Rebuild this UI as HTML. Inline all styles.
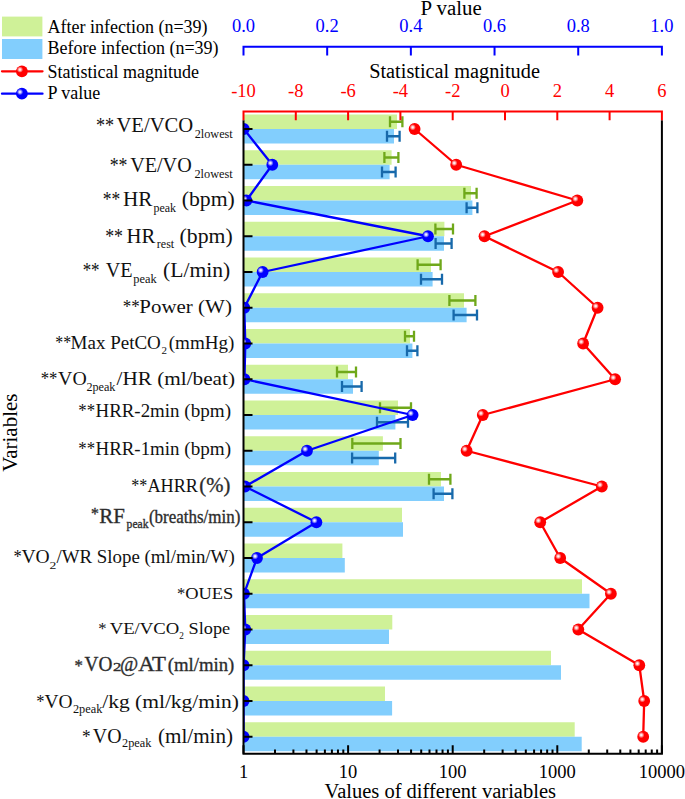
<!DOCTYPE html><html><head><meta charset="utf-8"><style>html,body{margin:0;padding:0;background:#fff;}svg{display:block;}text{font-family:"Liberation Serif",serif;}</style></head><body>
<svg width="685" height="799" viewBox="0 0 685 799">
<defs>
<radialGradient id="hl" cx="0.5" cy="0.5" r="0.5"><stop offset="0" stop-color="#fff" stop-opacity="1"/><stop offset="0.3" stop-color="#fff" stop-opacity="0.85"/><stop offset="1" stop-color="#fff" stop-opacity="0"/></radialGradient>
<clipPath id="pc"><rect x="243.5" y="105" width="418.4" height="660"/></clipPath>
</defs>
<rect width="685" height="799" fill="#fff"/>
<rect x="243.5" y="114.50" width="153.50" height="14.5" fill="#CFF198"/>
<rect x="243.5" y="129.00" width="150.50" height="14.5" fill="#82CEFD"/>
<rect x="243.5" y="150.25" width="148.10" height="14.5" fill="#CFF198"/>
<rect x="243.5" y="164.75" width="146.10" height="14.5" fill="#82CEFD"/>
<rect x="243.5" y="186.00" width="227.50" height="14.5" fill="#CFF198"/>
<rect x="243.5" y="200.50" width="228.90" height="14.5" fill="#82CEFD"/>
<rect x="243.5" y="221.75" width="200.90" height="14.5" fill="#CFF198"/>
<rect x="243.5" y="236.25" width="200.50" height="14.5" fill="#82CEFD"/>
<rect x="243.5" y="257.50" width="187.50" height="14.5" fill="#CFF198"/>
<rect x="243.5" y="272.00" width="189.10" height="14.5" fill="#82CEFD"/>
<rect x="243.5" y="293.25" width="220.50" height="14.5" fill="#CFF198"/>
<rect x="243.5" y="307.75" width="223.10" height="14.5" fill="#82CEFD"/>
<rect x="243.5" y="329.00" width="166.50" height="14.5" fill="#CFF198"/>
<rect x="243.5" y="343.50" width="168.90" height="14.5" fill="#82CEFD"/>
<rect x="243.5" y="364.75" width="104.50" height="14.5" fill="#CFF198"/>
<rect x="243.5" y="379.25" width="109.50" height="14.5" fill="#82CEFD"/>
<rect x="243.5" y="400.50" width="154.50" height="14.5" fill="#CFF198"/>
<rect x="243.5" y="415.00" width="151.90" height="14.5" fill="#82CEFD"/>
<rect x="243.5" y="436.25" width="139.40" height="14.5" fill="#CFF198"/>
<rect x="243.5" y="450.75" width="135.30" height="14.5" fill="#82CEFD"/>
<rect x="243.5" y="472.00" width="197.50" height="14.5" fill="#CFF198"/>
<rect x="243.5" y="486.50" width="200.50" height="14.5" fill="#82CEFD"/>
<rect x="243.5" y="507.75" width="158.50" height="14.5" fill="#CFF198"/>
<rect x="243.5" y="522.25" width="159.50" height="14.5" fill="#82CEFD"/>
<rect x="243.5" y="543.50" width="98.90" height="14.5" fill="#CFF198"/>
<rect x="243.5" y="558.00" width="101.30" height="14.5" fill="#82CEFD"/>
<rect x="243.5" y="579.25" width="338.50" height="14.5" fill="#CFF198"/>
<rect x="243.5" y="593.75" width="346.00" height="14.5" fill="#82CEFD"/>
<rect x="243.5" y="615.00" width="148.80" height="14.5" fill="#CFF198"/>
<rect x="243.5" y="629.50" width="145.50" height="14.5" fill="#82CEFD"/>
<rect x="243.5" y="650.75" width="307.50" height="14.5" fill="#CFF198"/>
<rect x="243.5" y="665.25" width="317.50" height="14.5" fill="#82CEFD"/>
<rect x="243.5" y="686.50" width="141.50" height="14.5" fill="#CFF198"/>
<rect x="243.5" y="701.00" width="148.60" height="14.5" fill="#82CEFD"/>
<rect x="243.5" y="722.25" width="331.20" height="14.5" fill="#CFF198"/>
<rect x="243.5" y="736.75" width="338.20" height="14.5" fill="#82CEFD"/>
<path d="M390.00 121.75H402.40M390.00 116.25V127.25M402.40 116.25V127.25" stroke="#6FA81A" stroke-width="2.3" fill="none"/>
<path d="M387.00 136.25H399.60M387.00 130.75V141.75M399.60 130.75V141.75" stroke="#1769AB" stroke-width="2.3" fill="none"/>
<path d="M384.40 157.50H398.40M384.40 152.00V163.00M398.40 152.00V163.00" stroke="#6FA81A" stroke-width="2.3" fill="none"/>
<path d="M382.00 172.00H395.60M382.00 166.50V177.50M395.60 166.50V177.50" stroke="#1769AB" stroke-width="2.3" fill="none"/>
<path d="M464.40 193.25H476.60M464.40 187.75V198.75M476.60 187.75V198.75" stroke="#6FA81A" stroke-width="2.3" fill="none"/>
<path d="M466.60 207.75H477.40M466.60 202.25V213.25M477.40 202.25V213.25" stroke="#1769AB" stroke-width="2.3" fill="none"/>
<path d="M435.40 229.00H453.00M435.40 223.50V234.50M453.00 223.50V234.50" stroke="#6FA81A" stroke-width="2.3" fill="none"/>
<path d="M435.60 243.50H451.60M435.60 238.00V249.00M451.60 238.00V249.00" stroke="#1769AB" stroke-width="2.3" fill="none"/>
<path d="M417.60 264.75H440.60M417.60 259.25V270.25M440.60 259.25V270.25" stroke="#6FA81A" stroke-width="2.3" fill="none"/>
<path d="M421.00 279.25H442.00M421.00 273.75V284.75M442.00 273.75V284.75" stroke="#1769AB" stroke-width="2.3" fill="none"/>
<path d="M449.40 300.50H475.40M449.40 295.00V306.00M475.40 295.00V306.00" stroke="#6FA81A" stroke-width="2.3" fill="none"/>
<path d="M453.60 315.00H477.00M453.60 309.50V320.50M477.00 309.50V320.50" stroke="#1769AB" stroke-width="2.3" fill="none"/>
<path d="M405.00 336.25H414.00M405.00 330.75V341.75M414.00 330.75V341.75" stroke="#6FA81A" stroke-width="2.3" fill="none"/>
<path d="M407.00 350.75H417.40M407.00 345.25V356.25M417.40 345.25V356.25" stroke="#1769AB" stroke-width="2.3" fill="none"/>
<path d="M337.00 372.00H356.00M337.00 366.50V377.50M356.00 366.50V377.50" stroke="#6FA81A" stroke-width="2.3" fill="none"/>
<path d="M342.00 386.50H361.60M342.00 381.00V392.00M361.60 381.00V392.00" stroke="#1769AB" stroke-width="2.3" fill="none"/>
<path d="M380.00 407.75H411.00M380.00 402.25V413.25M411.00 402.25V413.25" stroke="#6FA81A" stroke-width="2.3" fill="none"/>
<path d="M377.00 422.25H408.00M377.00 416.75V427.75M408.00 416.75V427.75" stroke="#1769AB" stroke-width="2.3" fill="none"/>
<path d="M352.30 443.50H400.50M352.30 438.00V449.00M400.50 438.00V449.00" stroke="#6FA81A" stroke-width="2.3" fill="none"/>
<path d="M352.10 458.00H395.20M352.10 452.50V463.50M395.20 452.50V463.50" stroke="#1769AB" stroke-width="2.3" fill="none"/>
<path d="M429.00 479.25H450.40M429.00 473.75V484.75M450.40 473.75V484.75" stroke="#6FA81A" stroke-width="2.3" fill="none"/>
<path d="M433.60 493.75H452.40M433.60 488.25V499.25M452.40 488.25V499.25" stroke="#1769AB" stroke-width="2.3" fill="none"/>
<g clip-path="url(#pc)">
<polyline points="414.60,129.00 456.20,164.75 577.30,200.50 484.50,236.25 558.10,272.00 597.60,307.75 583.10,343.50 615.10,379.25 482.80,415.00 466.60,450.75 601.80,486.50 540.20,522.25 560.20,558.00 610.90,593.75 578.30,629.50 639.30,665.25 644.20,701.00 643.20,736.75" fill="none" stroke="#FF0000" stroke-width="2.3" stroke-linejoin="round"/>
<polyline points="243.80,129.00 272.30,164.75 246.40,200.50 428.00,236.25 262.60,272.00 244.30,307.75 245.30,343.50 244.50,379.25 412.60,415.00 307.00,450.75 245.00,486.50 316.40,522.25 257.00,558.00 244.00,593.75 245.30,629.50 243.60,665.25 243.60,701.00 243.60,736.75" fill="none" stroke="#0000FF" stroke-width="2.3" stroke-linejoin="round"/>
<circle cx="414.60" cy="129.00" r="5.9" fill="#FF0000"/><circle cx="412.70" cy="127.30" r="3.2" fill="url(#hl)"/>
<circle cx="456.20" cy="164.75" r="5.9" fill="#FF0000"/><circle cx="454.30" cy="163.05" r="3.2" fill="url(#hl)"/>
<circle cx="577.30" cy="200.50" r="5.9" fill="#FF0000"/><circle cx="575.40" cy="198.80" r="3.2" fill="url(#hl)"/>
<circle cx="484.50" cy="236.25" r="5.9" fill="#FF0000"/><circle cx="482.60" cy="234.55" r="3.2" fill="url(#hl)"/>
<circle cx="558.10" cy="272.00" r="5.9" fill="#FF0000"/><circle cx="556.20" cy="270.30" r="3.2" fill="url(#hl)"/>
<circle cx="597.60" cy="307.75" r="5.9" fill="#FF0000"/><circle cx="595.70" cy="306.05" r="3.2" fill="url(#hl)"/>
<circle cx="583.10" cy="343.50" r="5.9" fill="#FF0000"/><circle cx="581.20" cy="341.80" r="3.2" fill="url(#hl)"/>
<circle cx="615.10" cy="379.25" r="5.9" fill="#FF0000"/><circle cx="613.20" cy="377.55" r="3.2" fill="url(#hl)"/>
<circle cx="482.80" cy="415.00" r="5.9" fill="#FF0000"/><circle cx="480.90" cy="413.30" r="3.2" fill="url(#hl)"/>
<circle cx="466.60" cy="450.75" r="5.9" fill="#FF0000"/><circle cx="464.70" cy="449.05" r="3.2" fill="url(#hl)"/>
<circle cx="601.80" cy="486.50" r="5.9" fill="#FF0000"/><circle cx="599.90" cy="484.80" r="3.2" fill="url(#hl)"/>
<circle cx="540.20" cy="522.25" r="5.9" fill="#FF0000"/><circle cx="538.30" cy="520.55" r="3.2" fill="url(#hl)"/>
<circle cx="560.20" cy="558.00" r="5.9" fill="#FF0000"/><circle cx="558.30" cy="556.30" r="3.2" fill="url(#hl)"/>
<circle cx="610.90" cy="593.75" r="5.9" fill="#FF0000"/><circle cx="609.00" cy="592.05" r="3.2" fill="url(#hl)"/>
<circle cx="578.30" cy="629.50" r="5.9" fill="#FF0000"/><circle cx="576.40" cy="627.80" r="3.2" fill="url(#hl)"/>
<circle cx="639.30" cy="665.25" r="5.9" fill="#FF0000"/><circle cx="637.40" cy="663.55" r="3.2" fill="url(#hl)"/>
<circle cx="644.20" cy="701.00" r="5.9" fill="#FF0000"/><circle cx="642.30" cy="699.30" r="3.2" fill="url(#hl)"/>
<circle cx="643.20" cy="736.75" r="5.9" fill="#FF0000"/><circle cx="641.30" cy="735.05" r="3.2" fill="url(#hl)"/>
<circle cx="243.80" cy="129.00" r="5.9" fill="#0000FF"/><circle cx="241.90" cy="127.30" r="3.2" fill="url(#hl)"/>
<circle cx="272.30" cy="164.75" r="5.9" fill="#0000FF"/><circle cx="270.40" cy="163.05" r="3.2" fill="url(#hl)"/>
<circle cx="246.40" cy="200.50" r="5.9" fill="#0000FF"/><circle cx="244.50" cy="198.80" r="3.2" fill="url(#hl)"/>
<circle cx="428.00" cy="236.25" r="5.9" fill="#0000FF"/><circle cx="426.10" cy="234.55" r="3.2" fill="url(#hl)"/>
<circle cx="262.60" cy="272.00" r="5.9" fill="#0000FF"/><circle cx="260.70" cy="270.30" r="3.2" fill="url(#hl)"/>
<circle cx="244.30" cy="307.75" r="5.9" fill="#0000FF"/><circle cx="242.40" cy="306.05" r="3.2" fill="url(#hl)"/>
<circle cx="245.30" cy="343.50" r="5.9" fill="#0000FF"/><circle cx="243.40" cy="341.80" r="3.2" fill="url(#hl)"/>
<circle cx="244.50" cy="379.25" r="5.9" fill="#0000FF"/><circle cx="242.60" cy="377.55" r="3.2" fill="url(#hl)"/>
<circle cx="412.60" cy="415.00" r="5.9" fill="#0000FF"/><circle cx="410.70" cy="413.30" r="3.2" fill="url(#hl)"/>
<circle cx="307.00" cy="450.75" r="5.9" fill="#0000FF"/><circle cx="305.10" cy="449.05" r="3.2" fill="url(#hl)"/>
<circle cx="245.00" cy="486.50" r="5.9" fill="#0000FF"/><circle cx="243.10" cy="484.80" r="3.2" fill="url(#hl)"/>
<circle cx="316.40" cy="522.25" r="5.9" fill="#0000FF"/><circle cx="314.50" cy="520.55" r="3.2" fill="url(#hl)"/>
<circle cx="257.00" cy="558.00" r="5.9" fill="#0000FF"/><circle cx="255.10" cy="556.30" r="3.2" fill="url(#hl)"/>
<circle cx="244.00" cy="593.75" r="5.9" fill="#0000FF"/><circle cx="242.10" cy="592.05" r="3.2" fill="url(#hl)"/>
<circle cx="245.30" cy="629.50" r="5.9" fill="#0000FF"/><circle cx="243.40" cy="627.80" r="3.2" fill="url(#hl)"/>
<circle cx="243.60" cy="665.25" r="5.9" fill="#0000FF"/><circle cx="241.70" cy="663.55" r="3.2" fill="url(#hl)"/>
<circle cx="243.60" cy="701.00" r="5.9" fill="#0000FF"/><circle cx="241.70" cy="699.30" r="3.2" fill="url(#hl)"/>
<circle cx="243.60" cy="736.75" r="5.9" fill="#0000FF"/><circle cx="241.70" cy="735.05" r="3.2" fill="url(#hl)"/>
</g>
<path d="M243.5 120.3V753.75M661.9 120.3V753.75M242.5 753.75H662.9" stroke="#000" stroke-width="2" fill="none"/>
<path d="M243.5 129.00H252.5M243.5 164.75H252.5M243.5 200.50H252.5M243.5 236.25H252.5M243.5 272.00H252.5M243.5 307.75H252.5M243.5 343.50H252.5M243.5 379.25H252.5M243.5 415.00H252.5M243.5 450.75H252.5M243.5 486.50H252.5M243.5 522.25H252.5M243.5 558.00H252.5M243.5 593.75H252.5M243.5 629.50H252.5M243.5 665.25H252.5M243.5 701.00H252.5M243.5 736.75H252.5" stroke="#000" stroke-width="2"/>
<path d="M243.50 753.75V745.25M274.99 753.75V749.45M293.41 753.75V749.45M306.48 753.75V749.45M316.61 753.75V749.45M324.89 753.75V749.45M331.90 753.75V749.45M337.96 753.75V749.45M343.31 753.75V749.45M348.10 753.75V745.25M379.59 753.75V749.45M398.01 753.75V749.45M411.08 753.75V749.45M421.21 753.75V749.45M429.49 753.75V749.45M436.50 753.75V749.45M442.56 753.75V749.45M447.91 753.75V749.45M452.70 753.75V745.25M484.19 753.75V749.45M502.61 753.75V749.45M515.68 753.75V749.45M525.81 753.75V749.45M534.09 753.75V749.45M541.10 753.75V749.45M547.16 753.75V749.45M552.51 753.75V749.45M557.30 753.75V745.25M588.79 753.75V749.45M607.21 753.75V749.45M620.28 753.75V749.45M630.41 753.75V749.45M638.69 753.75V749.45M645.70 753.75V749.45M651.76 753.75V749.45M657.11 753.75V749.45M661.90 753.75V745.25" stroke="#000" stroke-width="2"/>
<path d="M242.5 111.4H662.9M243.50 111.4V120.30000000000001M295.80 111.4V120.30000000000001M348.10 111.4V120.30000000000001M400.40 111.4V120.30000000000001M452.70 111.4V120.30000000000001M505.00 111.4V120.30000000000001M557.30 111.4V120.30000000000001M609.60 111.4V120.30000000000001M661.90 111.4V120.30000000000001" stroke="#FF0000" stroke-width="2" fill="none"/>
<path d="M242.5 46.8H662.9M243.50 46.8V55.599999999999994M327.18 46.8V55.599999999999994M410.86 46.8V55.599999999999994M494.54 46.8V55.599999999999994M578.22 46.8V55.599999999999994M661.90 46.8V55.599999999999994" stroke="#0000FF" stroke-width="2" fill="none"/>
<text x="243.50" y="31.8" font-size="18.5" fill="#0000FF" text-anchor="middle">0.0</text>
<text x="327.18" y="31.8" font-size="18.5" fill="#0000FF" text-anchor="middle">0.2</text>
<text x="410.86" y="31.8" font-size="18.5" fill="#0000FF" text-anchor="middle">0.4</text>
<text x="494.54" y="31.8" font-size="18.5" fill="#0000FF" text-anchor="middle">0.6</text>
<text x="578.22" y="31.8" font-size="18.5" fill="#0000FF" text-anchor="middle">0.8</text>
<text x="661.90" y="31.8" font-size="18.5" fill="#0000FF" text-anchor="middle">1.0</text>
<text x="243.50" y="96.6" font-size="18.5" fill="#FF0000" text-anchor="middle">-10</text>
<text x="295.80" y="96.6" font-size="18.5" fill="#FF0000" text-anchor="middle">-8</text>
<text x="348.10" y="96.6" font-size="18.5" fill="#FF0000" text-anchor="middle">-6</text>
<text x="400.40" y="96.6" font-size="18.5" fill="#FF0000" text-anchor="middle">-4</text>
<text x="452.70" y="96.6" font-size="18.5" fill="#FF0000" text-anchor="middle">-2</text>
<text x="505.00" y="96.6" font-size="18.5" fill="#FF0000" text-anchor="middle">0</text>
<text x="557.30" y="96.6" font-size="18.5" fill="#FF0000" text-anchor="middle">2</text>
<text x="609.60" y="96.6" font-size="18.5" fill="#FF0000" text-anchor="middle">4</text>
<text x="661.90" y="96.6" font-size="18.5" fill="#FF0000" text-anchor="middle">6</text>
<text x="243.50" y="778" font-size="18.5" fill="#000" text-anchor="middle">1</text>
<text x="348.10" y="778" font-size="18.5" fill="#000" text-anchor="middle">10</text>
<text x="452.70" y="778" font-size="18.5" fill="#000" text-anchor="middle">100</text>
<text x="557.30" y="778" font-size="18.5" fill="#000" text-anchor="middle">1000</text>
<text x="661.90" y="778" font-size="18.5" fill="#000" text-anchor="middle">10000</text>
<text transform="translate(17 432.6) rotate(-90)" font-size="21" text-anchor="middle">Variables</text>
<rect x="2" y="16.6" width="40.4" height="19.8" fill="#CFF198"/>
<rect x="2" y="39" width="40.4" height="20" fill="#82CEFD"/>
<path d="M2 71.3H42.5" stroke="#FF0000" stroke-width="2.3" stroke-linecap="round"/>
<circle cx="21.90" cy="71.30" r="5.9" fill="#FF0000"/><circle cx="20.00" cy="69.60" r="3.2" fill="url(#hl)"/>
<path d="M2 93.7H42.5" stroke="#0000FF" stroke-width="2.3" stroke-linecap="round"/>
<circle cx="21.90" cy="93.70" r="5.9" fill="#0000FF"/><circle cx="20.00" cy="92.00" r="3.2" fill="url(#hl)"/>
<text x="47.5" y="32.5" font-size="18">After infection (n=39)</text>
<text x="47.5" y="53.8" font-size="18">Before infection (n=39)</text>
<text x="47.5" y="77.5" font-size="18">Statistical magnitude</text>
<text x="47.5" y="99.4" font-size="18">P value</text>
<text x="96.02" y="131.7" font-size="20.5" textLength="18.13" lengthAdjust="spacingAndGlyphs" fill="#111">**</text>
<text x="116.40" y="131.7" font-size="20.5" textLength="76.81" lengthAdjust="spacingAndGlyphs" fill="#111">VE/VCO</text>
<text x="194.70" y="138.3" font-size="12.2" textLength="38.02" lengthAdjust="spacingAndGlyphs" fill="#111">2lowest</text>
<text x="109.71" y="171.5" font-size="20" textLength="17.78" lengthAdjust="spacingAndGlyphs" fill="#111">**</text>
<text x="130.20" y="171.5" font-size="20" textLength="61.51" lengthAdjust="spacingAndGlyphs" fill="#111">VE/VO</text>
<text x="194.40" y="177.6" font-size="12.2" textLength="38.32" lengthAdjust="spacingAndGlyphs" fill="#111">2lowest</text>
<text x="102.83" y="206.0" font-size="20" textLength="17.44" lengthAdjust="spacingAndGlyphs" fill="#111">**</text>
<text x="123.04" y="206.0" font-size="20" textLength="29.44" lengthAdjust="spacingAndGlyphs" fill="#111">HR</text>
<text x="153.50" y="211.6" font-size="12.2" textLength="22.52" lengthAdjust="spacingAndGlyphs" fill="#111">peak</text>
<text x="181.71" y="206.0" font-size="20" textLength="53.16" lengthAdjust="spacingAndGlyphs" fill="#111">(bpm)</text>
<text x="105.21" y="242.8" font-size="20" textLength="17.78" lengthAdjust="spacingAndGlyphs" fill="#111">**</text>
<text x="126.56" y="242.8" font-size="20" textLength="28.83" lengthAdjust="spacingAndGlyphs" fill="#111">HR</text>
<text x="156.80" y="248.3" font-size="12.2" textLength="17.41" lengthAdjust="spacingAndGlyphs" fill="#111">rest</text>
<text x="179.61" y="242.8" font-size="20" textLength="53.16" lengthAdjust="spacingAndGlyphs" fill="#111">(bpm)</text>
<text x="82.66" y="277.2" font-size="20" textLength="16.89" lengthAdjust="spacingAndGlyphs" fill="#111">**</text>
<text x="105.70" y="277.2" font-size="20" textLength="26.88" lengthAdjust="spacingAndGlyphs" fill="#111">VE</text>
<text x="133.30" y="283.0" font-size="12.2" textLength="23.32" lengthAdjust="spacingAndGlyphs" fill="#111">peak</text>
<text x="163.05" y="277.2" font-size="20.5" textLength="67.26" lengthAdjust="spacingAndGlyphs" fill="#111">(L/min)</text>
<text x="122.83" y="312.8" font-size="19.5" textLength="17.01" lengthAdjust="spacingAndGlyphs" fill="#111">**</text>
<text x="139.33" y="312.8" font-size="19.5" textLength="53.39" lengthAdjust="spacingAndGlyphs" fill="#111">Power</text>
<text x="198.12" y="312.8" font-size="19.5" textLength="33.81" lengthAdjust="spacingAndGlyphs" fill="#111">(W)</text>
<text x="55.24" y="349.4" font-size="18.3" textLength="15.81" lengthAdjust="spacingAndGlyphs" fill="#111">**</text>
<text x="70.56" y="349.4" font-size="18.3" textLength="90.28" lengthAdjust="spacingAndGlyphs" fill="#111">Max PetCO</text>
<text x="161.50" y="354.1" font-size="11" textLength="5.50" lengthAdjust="spacingAndGlyphs" fill="#111">2</text>
<text x="168.77" y="349.4" font-size="18.5" textLength="65.57" lengthAdjust="spacingAndGlyphs" fill="#111">(mmHg)</text>
<text x="40.76" y="384.7" font-size="19.8" textLength="16.70" lengthAdjust="spacingAndGlyphs" fill="#111">**</text>
<text x="58.10" y="384.7" font-size="19.8" textLength="28.58" lengthAdjust="spacingAndGlyphs" fill="#111">VO</text>
<text x="86.40" y="390.5" font-size="12.2" textLength="29.01" lengthAdjust="spacingAndGlyphs" fill="#111">2peak</text>
<text x="116.60" y="384.7" font-size="19.8" textLength="118.35" lengthAdjust="spacingAndGlyphs" fill="#111">/HR (ml/beat)</text>
<text x="78.28" y="417.4" font-size="18.3" textLength="16.78" lengthAdjust="spacingAndGlyphs" fill="#111">**</text>
<text x="95.57" y="417.4" font-size="18.3" textLength="83.91" lengthAdjust="spacingAndGlyphs" fill="#111">HRR-2min</text>
<text x="184.37" y="417.4" font-size="18.5" textLength="46.66" lengthAdjust="spacingAndGlyphs" fill="#111">(bpm)</text>
<text x="78.28" y="455.0" font-size="18.3" textLength="16.78" lengthAdjust="spacingAndGlyphs" fill="#111">**</text>
<text x="95.57" y="455.0" font-size="18.3" textLength="83.91" lengthAdjust="spacingAndGlyphs" fill="#111">HRR-1min</text>
<text x="184.37" y="455.0" font-size="18.5" textLength="46.66" lengthAdjust="spacingAndGlyphs" fill="#111">(bpm)</text>
<text x="131.15" y="492.3" font-size="18.8" textLength="16.02" lengthAdjust="spacingAndGlyphs" fill="#111">**</text>
<text x="147.40" y="492.3" font-size="18.8" textLength="50.58" lengthAdjust="spacingAndGlyphs" fill="#111">AHRR</text>
<text x="199.34" y="492.3" font-size="21.5" textLength="30.99" lengthAdjust="spacingAndGlyphs" fill="#2a2a2a" stroke="#333" stroke-width="0.35">(%)</text>
<text x="91.07" y="518.6" font-size="17" textLength="7.89" lengthAdjust="spacingAndGlyphs" fill="#2a2a2a" stroke="#333" stroke-width="0.35">*</text>
<text x="99.18" y="522.9" font-size="20.5" textLength="25.60" lengthAdjust="spacingAndGlyphs" fill="#2a2a2a" stroke="#333" stroke-width="0.35">RF</text>
<text x="126.60" y="528.2" font-size="12.2" textLength="21.91" lengthAdjust="spacingAndGlyphs" fill="#2a2a2a" stroke="#333" stroke-width="0.35">peak</text>
<text x="148.95" y="522.5" font-size="17.8" textLength="91.41" lengthAdjust="spacingAndGlyphs" fill="#2a2a2a" stroke="#333" stroke-width="0.35">(breaths/min)</text>
<text x="13.47" y="563.4" font-size="17.8" textLength="8.26" lengthAdjust="spacingAndGlyphs" fill="#111">*</text>
<text x="21.40" y="563.4" font-size="17.8" textLength="28.26" lengthAdjust="spacingAndGlyphs" fill="#111">VO</text>
<text x="49.40" y="568.7" font-size="10.5" textLength="6.83" lengthAdjust="spacingAndGlyphs" fill="#111">2</text>
<text x="56.40" y="563.4" font-size="17.8" textLength="178.32" lengthAdjust="spacingAndGlyphs" fill="#111">/WR Slope (ml/min/W)</text>
<text x="177.06" y="599.3" font-size="17.6" textLength="8.29" lengthAdjust="spacingAndGlyphs" fill="#111">*</text>
<text x="185.20" y="599.3" font-size="17.6" textLength="48.10" lengthAdjust="spacingAndGlyphs" fill="#111">OUES</text>
<text x="98.26" y="634.3" font-size="17.6" textLength="8.29" lengthAdjust="spacingAndGlyphs" fill="#111">*</text>
<text x="109.70" y="634.3" font-size="17.6" textLength="69.53" lengthAdjust="spacingAndGlyphs" fill="#111">VE/VCO</text>
<text x="179.30" y="639.1" font-size="10.5" textLength="4.62" lengthAdjust="spacingAndGlyphs" fill="#111">2</text>
<text x="188.56" y="634.3" font-size="17.6" textLength="41.62" lengthAdjust="spacingAndGlyphs" fill="#111">Slope</text>
<text x="74.51" y="670.7" font-size="17" textLength="8.38" lengthAdjust="spacingAndGlyphs" fill="#2a2a2a" stroke="#333" stroke-width="0.35">*</text>
<text x="84.60" y="670.7" font-size="20.3" textLength="27.78" lengthAdjust="spacingAndGlyphs" fill="#2a2a2a" stroke="#333" stroke-width="0.35">VO</text>
<text x="112.90" y="670.7" font-size="11.5" textLength="8.39" lengthAdjust="spacingAndGlyphs" fill="#2a2a2a" stroke="#333" stroke-width="0.35">2</text>
<text x="119.91" y="670.7" font-size="20" textLength="18.21" lengthAdjust="spacingAndGlyphs" fill="#2a2a2a" stroke="#333" stroke-width="0.35">@</text>
<text x="138.20" y="670.7" font-size="20.3" textLength="27.87" lengthAdjust="spacingAndGlyphs" fill="#2a2a2a" stroke="#333" stroke-width="0.35">AT</text>
<text x="167.78" y="670.7" font-size="18.3" textLength="66.52" lengthAdjust="spacingAndGlyphs" fill="#2a2a2a" stroke="#333" stroke-width="0.35">(ml/min)</text>
<text x="36.16" y="707.6" font-size="19.7" textLength="8.24" lengthAdjust="spacingAndGlyphs" fill="#111">*</text>
<text x="44.40" y="707.6" font-size="19.7" textLength="28.03" lengthAdjust="spacingAndGlyphs" fill="#111">VO</text>
<text x="72.90" y="712.5" font-size="12.2" textLength="29.41" lengthAdjust="spacingAndGlyphs" fill="#111">2peak</text>
<text x="102.20" y="707.6" font-size="19.7" textLength="136.76" lengthAdjust="spacingAndGlyphs" fill="#111">/kg (ml/kg/min)</text>
<text x="81.92" y="742.6" font-size="19.7" textLength="8.61" lengthAdjust="spacingAndGlyphs" fill="#111">*</text>
<text x="92.80" y="742.6" font-size="20.5" textLength="28.69" lengthAdjust="spacingAndGlyphs" fill="#111">VO</text>
<text x="122.00" y="747.2" font-size="12.2" textLength="29.31" lengthAdjust="spacingAndGlyphs" fill="#111">2peak</text>
<text x="157.94" y="742.6" font-size="20" textLength="75.17" lengthAdjust="spacingAndGlyphs" fill="#111">(ml/min)</text>
<text x="420.56" y="15.0" font-size="20" textLength="61.17" lengthAdjust="spacingAndGlyphs" fill="#000">P value</text>
<text x="369.19" y="77.5" font-size="20" textLength="170.73" lengthAdjust="spacingAndGlyphs" fill="#000">Statistical magnitude</text>
<text x="324.60" y="798.4" font-size="20" textLength="231.37" lengthAdjust="spacingAndGlyphs" fill="#000">Values of different variables</text>
</svg></body></html>
